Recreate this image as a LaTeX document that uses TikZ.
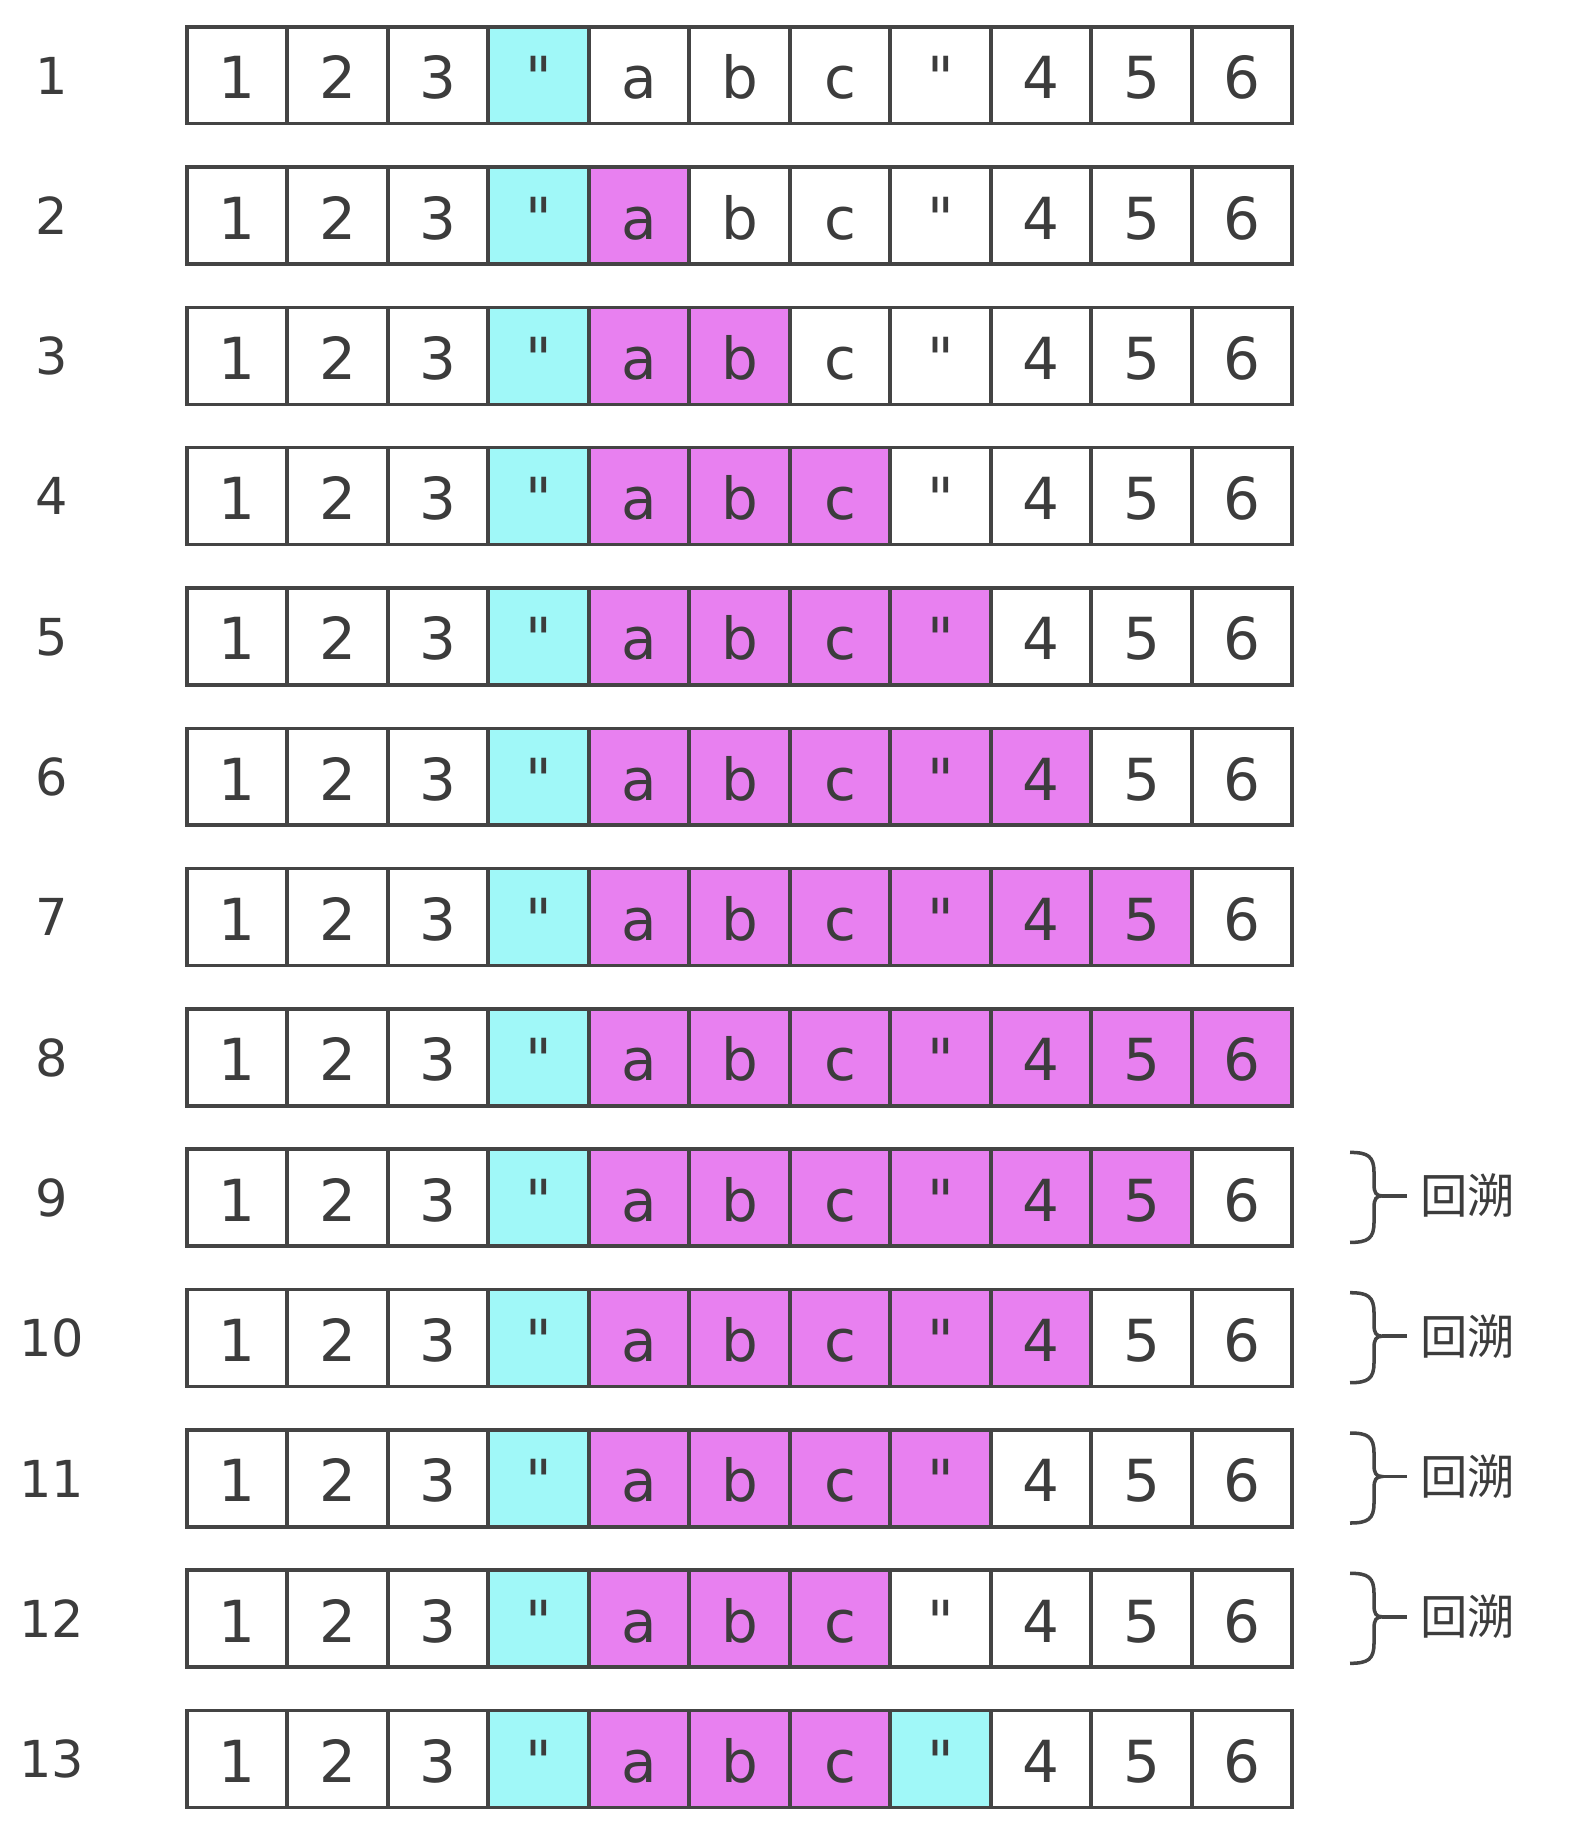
\documentclass[tikz,border=0pt]{standalone}
\usepackage{fontspec}
\newfontfamily\cellfont{DejaVu Sans}
\newfontfamily\cjk{Noto Sans CJK SC}
\definecolor{quotecyan}{HTML}{A0F8F8}
\definecolor{scanpink}{HTML}{E880F0}
\definecolor{edgegray}{HTML}{444444}
\definecolor{inkgray}{HTML}{3C3C3C}
\tikzset{
  cellbox/.style={draw=edgegray, line width=2pt, minimum width=2.01cm, minimum height=1.94cm, inner sep=0pt, text height=0.94cm, text depth=0pt, anchor=north west, font=\cellfont\fontsize{33}{36}\selectfont, text=inkgray},
  rowlabel/.style={anchor=base, font=\cellfont\fontsize{29}{32}\selectfont, text=inkgray},
  backnote/.style={anchor=west, inner xsep=0.26cm, inner ysep=0pt, font=\cjk\fontsize{27}{30}\selectfont, text=inkgray},
  bracepen/.style={draw=edgegray, line width=2pt},
}

\begin{document}
\begin{tikzpicture}[x=0.02cm, y=-0.02cm]
\useasboundingbox (0,0) rectangle (1582,1832);

% rows: number / pink cells / extra cyan cell
\foreach \r/\m/\q in {1/0/0,2/1/0,3/2/0,4/3/0,5/4/0,6/5/0,7/6/0,8/7/0,9/6/0,10/5/0,11/4/0,12/3/0,13/3/8} {
  \pgfmathsetmacro\rowtop{25+140.3*(\r-1)}
  \node[rowlabel] (lbl\r) at (52,{\rowtop+69}) {\r};
  \foreach \c/\t in {1/1,2/2,3/3,4/",5/a,6/b,7/c,8/",9/4,10/5,11/6} {
    \def\shade{white}
    \ifnum\c>4 \ifnum\c<\numexpr5+\m\relax \def\shade{scanpink}\fi\fi
    \ifnum\c=4 \def\shade{quotecyan}\fi
    \ifnum\c=\q \def\shade{quotecyan}\fi
    \node[cellbox, fill=\shade] (cell\r-\c) at ({185+100.5*(\c-1)},\rowtop) {\t};
  }
}

% backtracking marks
\foreach \r in {9,10,11,12} {
  \pgfmathsetmacro\rowtop{25+140.3*(\r-1)}
  \draw[bracepen] (1350,{\rowtop+5}) .. controls (1368,{\rowtop+5}) and (1374,{\rowtop+9}) .. (1374,{\rowtop+25})
    -- (1374,{\rowtop+37}) .. controls (1374,{\rowtop+45}) and (1376,{\rowtop+48.5}) .. (1382,{\rowtop+48.5})
    .. controls (1376,{\rowtop+48.5}) and (1374,{\rowtop+52}) .. (1374,{\rowtop+60})
    -- (1374,{\rowtop+75}) .. controls (1374,{\rowtop+91}) and (1368,{\rowtop+95}) .. (1350,{\rowtop+95});
  \coordinate (tip\r) at (1382,{\rowtop+48.5});
  \node[backnote] (note\r) at (1407,{\rowtop+48.5}) {回溯};
  \draw[bracepen] (tip\r) -- (note\r.west);
}

\end{tikzpicture}
\end{document}
